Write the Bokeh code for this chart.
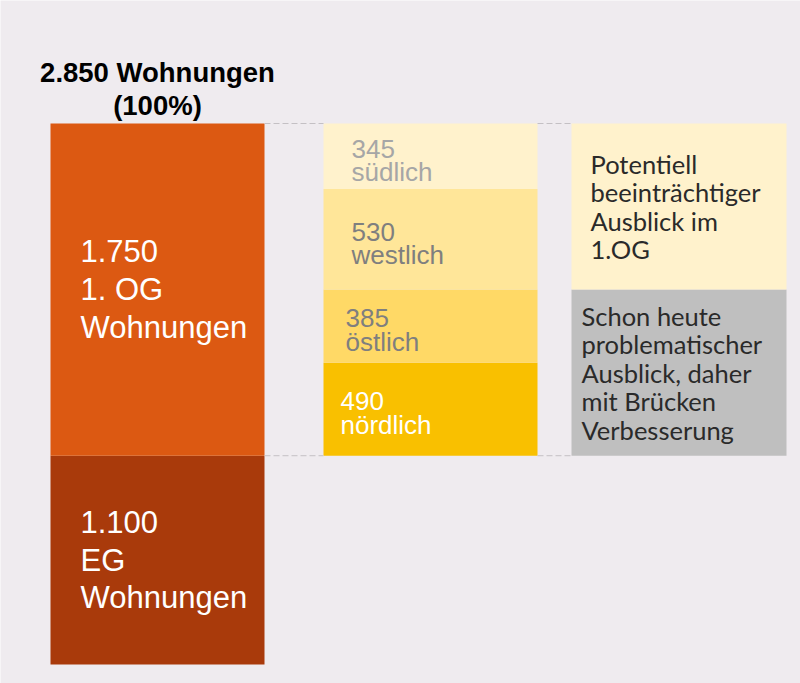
from bokeh.plotting import figure
from bokeh.models import ColumnDataSource, Range1d
from bokeh.core.properties import value
from bokeh.embed import file_html
from bokeh.resources import INLINE

# ---------------- data ----------------
total = 2850
floor_names = ["EG", "1. OG"]
floor_values = [1100, 1750]
floor_labels = ["1.100\nEG\nWohnungen", "1.750\n1. OG\nWohnungen"]

dir_names = ["nördlich", "östlich", "westlich", "südlich"]
dir_values = [490, 385, 530, 345]

note_texts = [
    "Schon heute\nproblematischer\nAusblick, daher\nmit Brücken\nVerbesserung",
    "Potentiell\nbeeinträchtiger\nAusblick im\n1.OG",
]
title_text = "2.850 Wohnungen\n(100%)"

# ---------------- layout / style ----------------
BG = "#efebef"
W, H = 800, 683
col_left_x, col_mid_x, col_right_x = 157, 430, 678.5
bar_w = 214
floor_colors = ["#a93a0b", "#dc5912"]
dir_colors = ["#f9c000", "#ffd966", "#ffe699", "#fff2cc"]
dir_text_colors = ["white", "#7f7f7f", "#7f7f7f", "#a6a6a6"]
dir_label_x = [340, 345, 351, 351]
note_colors = ["#bfbfbf", "#fff2cc"]
note_text_x = [581, 590]

p = figure(width=W, height=H, output_backend="svg", toolbar_location=None,
           x_range=Range1d(0, W), y_range=Range1d(-100, 3498),
           min_border=0, background_fill_color=BG, border_fill_color=BG)
p.axis.visible = False
p.grid.visible = False
p.outline_line_color = None

# left stacked bar
bottoms, tops = [], []
acc = 0
for v in floor_values:
    bottoms.append(acc)
    acc += v
    tops.append(acc)
src_f = ColumnDataSource(dict(
    x=[col_left_x] * 2, bottom=bottoms, top=tops, color=floor_colors,
    label=floor_labels, mid=[(b + t) / 2 for b, t in zip(bottoms, tops)],
    lx=[col_left_x - bar_w / 2 + 30] * 2))
p.vbar(x="x", bottom="bottom", top="top", width=bar_w, fill_color="color",
       line_color=None, source=src_f)
p.text(x="lx", y="mid", text="label", source=src_f, text_color="white",
       text_font=value("Liberation Sans"), text_font_size="31px",
       text_align="left", text_baseline="middle", text_line_height=1.08)

# title
p.text(x=[col_left_x], y=[total], text=[title_text], text_color="black",
       text_font=value("Liberation Sans"), text_font_size="27.5px",
       text_font_style="bold", text_align="center", text_baseline="bottom",
       text_line_height=1.05, y_offset=-3)

# middle waterfall (starts on top of EG)
base = floor_values[0]
db, dt = [], []
acc = base
for v in dir_values:
    db.append(acc)
    acc += v
    dt.append(acc)
src_d = ColumnDataSource(dict(
    x=[col_mid_x] * 4, bottom=db, top=dt, color=dir_colors,
    label=[f"{v}\n{n}" for v, n in zip(dir_values, dir_names)],
    mid=[(b + t) / 2 for b, t in zip(db, dt)], lx=dir_label_x,
    tc=dir_text_colors))
p.vbar(x="x", bottom="bottom", top="top", width=bar_w, fill_color="color",
       line_color=None, source=src_d)
p.text(x="lx", y="mid", text="label", source=src_d, text_color="tc",
       text_font=value("Liberation Sans"), text_font_size="26px",
       text_align="left", text_baseline="middle", text_line_height=0.78,
       y_offset=4)

# right note boxes (groups of directions)
nb = [db[0], db[2]]
nt = [dt[1], dt[3]]
src_n = ColumnDataSource(dict(
    x=[col_right_x] * 2, bottom=nb, top=nt, color=note_colors, label=note_texts,
    mid=[(b + t) / 2 for b, t in zip(nb, nt)], lx=note_text_x))
p.vbar(x="x", bottom="bottom", top="top", width=215, fill_color="color",
       line_color=None, source=src_n)
p.text(x="lx", y="mid", text="label", source=src_n, text_color="#2a2a2a",
       text_font=value("Lato"), text_font_size="25.5px",
       text_align="left", text_baseline="middle", text_line_height=0.95)

# dashed connectors
for yv in [total, base]:
    p.segment(x0=[col_left_x + bar_w / 2, col_mid_x + bar_w / 2],
              x1=[col_mid_x - bar_w / 2, col_right_x - 215 / 2],
              y0=[yv, yv], y1=[yv, yv], line_color="#c4c0c4",
              line_dash="6 3", line_width=1)

open("out.html", "w").write(file_html(p, INLINE))
